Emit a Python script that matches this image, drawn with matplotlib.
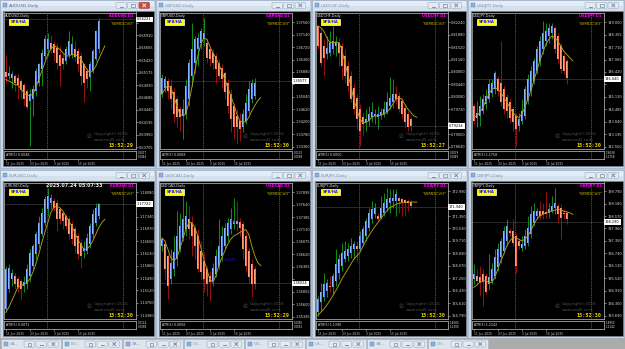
import matplotlib
matplotlib.use('Agg')
import matplotlib.pyplot as plt
from matplotlib.patches import Rectangle, FancyBboxPatch
from matplotlib.transforms import blended_transform_factory
import numpy as np

# ---------------- DATA ----------------
DATE_TICKS = [0, 8, 16, 24]
DATE_LABELS = ['11 Jun 2025', '23 Jun 2025', '3 Jul 2025', '15 Jul 2025']
SEPARATORS = [13.6, 39.0]

AUDUSD_O = [0.6519,0.6510,0.6506,0.6511,0.6506,0.6501,0.6494,0.6481,0.6462,0.6465,0.6481,0.6498,0.6524,0.6550,0.6563,0.6576,0.6573,0.6566,0.6553,0.6547,0.6540,0.6553,0.6553,0.6563,0.6560,0.6550,0.6534,0.6521,0.6508,0.6521,0.6544,0.6563]
AUDUSD_C = [0.6508,0.6517,0.6514,0.6498,0.6493,0.6483,0.6465,0.6449,0.6475,0.6485,0.6521,0.6534,0.6557,0.6583,0.6584,0.6564,0.6557,0.6537,0.6530,0.6534,0.6563,0.6579,0.6573,0.6549,0.6534,0.6511,0.6498,0.6504,0.6534,0.6560,0.6599,0.6619]
AUDUSD_H = [0.6553,0.6530,0.6521,0.6514,0.6514,0.6504,0.6498,0.6485,0.6485,0.6494,0.6527,0.6537,0.6563,0.6592,0.6596,0.6592,0.6579,0.6576,0.6570,0.6557,0.6570,0.6599,0.6589,0.6579,0.6566,0.6557,0.6537,0.6527,0.6540,0.6563,0.6602,0.6625]
AUDUSD_L = [0.6498,0.6504,0.6488,0.6481,0.6465,0.6465,0.6452,0.6445,0.6374,0.6432,0.6472,0.6491,0.6491,0.6544,0.6550,0.6557,0.6540,0.6524,0.6491,0.6524,0.6534,0.6547,0.6547,0.6540,0.6521,0.6494,0.6459,0.6488,0.6481,0.6517,0.6540,0.6557]
AUDUSD_MA = [0.6504,0.6501,0.6498,0.6494,0.6493,0.6486,0.6478,0.6473,0.6472,0.6475,0.6488,0.6504,0.6521,0.6537,0.6553,0.6564,0.6570,0.6568,0.6563,0.6557,0.6551,0.6550,0.6553,0.6553,0.6550,0.6544,0.6534,0.6524,0.6517,0.6521,0.6530,0.6544,0.6557,0.6570]
AUDUSD_TICKS = [0.66155,0.65910,0.65665,0.65420,0.65175,0.64930,0.64685,0.64440,0.64195,0.63950,0.63705]

GBPUSD_O = [1.3513,1.3535,1.3558,1.3541,1.3519,1.3496,1.3463,1.3440,1.3446,1.3496,1.3575,1.3619,1.3664,1.3687,1.3698,1.3687,1.3664,1.3653,1.3642,1.3619,1.3603,1.3586,1.3552,1.3513,1.3474,1.3440,1.3423,1.3401,1.3423,1.3457,1.3496,1.3507]
GBPUSD_C = [1.3569,1.3563,1.3524,1.3496,1.3446,1.3435,1.3435,1.3463,1.3541,1.3619,1.3664,1.3698,1.3703,1.3726,1.3720,1.3636,1.3631,1.3619,1.3597,1.3575,1.3563,1.3519,1.3474,1.3429,1.3401,1.3401,1.3395,1.3446,1.3485,1.3530,1.3552,1.3552]
GBPUSD_H = [1.3580,1.3575,1.3569,1.3563,1.3535,1.3507,1.3474,1.3496,1.3563,1.3631,1.3754,1.3709,1.3720,1.3737,1.3771,1.3703,1.3675,1.3664,1.3653,1.3631,1.3614,1.3591,1.3563,1.3530,1.3485,1.3463,1.3451,1.3463,1.3513,1.3558,1.3563,1.3569]
GBPUSD_L = [1.3502,1.3519,1.3496,1.3463,1.3418,1.3401,1.3390,1.3362,1.3429,1.3474,1.3541,1.3586,1.3608,1.3664,1.3675,1.3619,1.3608,1.3597,1.3552,1.3563,1.3535,1.3496,1.3451,1.3384,1.3362,1.3345,1.3356,1.3384,1.3412,1.3446,1.3485,1.3496]
GBPUSD_MA = [1.3513,1.3530,1.3543,1.3535,1.3507,1.3474,1.3446,1.3440,1.3446,1.3485,1.3535,1.3591,1.3642,1.3681,1.3703,1.3698,1.3675,1.3653,1.3636,1.3614,1.3591,1.3563,1.3535,1.3507,1.3479,1.3446,1.3423,1.3418,1.3420,1.3435,1.3457,1.3474,1.3491,1.3502]
GBPUSD_TICKS = [1.37560,1.37140,1.36720,1.36300,1.35880,1.35460,1.35040,1.34620,1.34200,1.33780,1.33360]

USDCHF_O = [0.8213,0.8193,0.8155,0.8131,0.8136,0.8145,0.8155,0.8165,0.8155,0.8126,0.8097,0.8069,0.8035,0.8006,0.7973,0.7949,0.7934,0.7939,0.7949,0.7953,0.7951,0.7955,0.7958,0.7963,0.7982,0.7992,0.8016,0.8011,0.7997,0.7977,0.7958,0.7944]
USDCHF_C = [0.8155,0.8107,0.8121,0.8150,0.8165,0.8169,0.8166,0.8136,0.8097,0.8069,0.8040,0.8001,0.7973,0.7944,0.7910,0.7929,0.7944,0.7958,0.7963,0.7958,0.7958,0.7963,0.7973,0.7992,0.8006,0.8016,0.8001,0.7973,0.7958,0.7934,0.7920,0.7925]
USDCHF_H = [0.8217,0.8203,0.8174,0.8184,0.8198,0.8213,0.8184,0.8179,0.8165,0.8145,0.8112,0.8083,0.8049,0.8016,0.7987,0.7963,0.7973,0.7982,0.7992,0.7973,0.7982,0.7977,0.7997,0.8021,0.8064,0.8059,0.8040,0.8021,0.8006,0.7987,0.7968,0.7949]
USDCHF_L = [0.8145,0.8097,0.8069,0.8117,0.8126,0.8131,0.8126,0.8097,0.8059,0.8049,0.8021,0.7992,0.7958,0.7915,0.7867,0.7896,0.7910,0.7925,0.7934,0.7929,0.7915,0.7944,0.7949,0.7958,0.7973,0.7977,0.7987,0.7963,0.7944,0.7920,0.7910,0.7910]
USDCHF_MA = [0.8213,0.8208,0.8198,0.8179,0.8165,0.8165,0.8166,0.8165,0.8145,0.8107,0.8073,0.8040,0.8001,0.7973,0.7944,0.7934,0.7934,0.7939,0.7949,0.7953,0.7953,0.7955,0.7958,0.7963,0.7973,0.7987,0.8001,0.8006,0.8001,0.7987,0.7973,0.7963,0.7953,0.7949]
USDCHF_TICKS = [0.82240,0.81880,0.81520,0.81160,0.80800,0.80440,0.80080,0.79720,0.79360,0.79000,0.78640]

USDJPY_O = [144.67,144.06,144.15,144.41,144.75,145.01,145.35,145.53,146.04,145.87,145.53,145.10,144.84,144.49,144.15,143.63,143.89,144.15,144.92,145.44,145.96,146.47,146.99,147.59,148.02,148.28,148.45,148.71,148.28,147.76,147.25,146.99]
USDJPY_C = [143.89,144.32,144.67,145.01,145.18,145.78,145.87,146.39,145.44,144.84,144.49,144.41,144.06,143.81,143.46,143.98,144.41,145.53,146.04,146.47,146.99,147.59,148.02,148.45,148.54,148.71,148.79,147.59,147.07,146.56,146.47,146.13]
USDJPY_H = [144.75,144.92,145.18,145.27,145.53,146.04,146.04,146.47,146.21,148.02,145.70,145.27,145.01,144.67,144.32,144.32,145.01,145.70,146.30,146.73,147.16,147.76,148.28,149.05,148.97,148.97,148.97,148.79,148.45,147.93,147.42,147.07]
USDJPY_L = [143.72,143.55,143.63,144.24,144.49,144.84,145.10,145.27,145.18,144.67,144.24,144.06,143.81,143.38,142.60,143.38,143.72,143.98,144.75,145.18,145.78,146.30,146.73,147.33,147.76,147.93,148.11,147.42,146.82,146.39,146.30,145.78]
USDJPY_MA = [144.06,144.15,144.32,144.58,144.92,145.27,145.53,145.61,145.53,145.35,145.10,144.84,144.58,144.32,144.15,144.06,144.24,144.58,145.01,145.44,145.96,146.47,146.99,147.42,147.85,148.11,148.28,148.19,148.02,147.76,147.50,147.33,147.16,146.99]
USDJPY_TICKS = [149.000,148.355,147.710,147.065,146.420,145.775,145.130,144.485,143.840,143.195,142.550]

EURUSD_O = [1.1456,1.1516,1.1546,1.1556,1.1546,1.1541,1.1526,1.1531,1.1556,1.1586,1.1621,1.1651,1.1681,1.1716,1.1756,1.1776,1.1781,1.1776,1.1756,1.1746,1.1736,1.1726,1.1711,1.1696,1.1676,1.1656,1.1631,1.1631,1.1651,1.1681,1.1716,1.1736]
EURUSD_C = [1.1576,1.1581,1.1566,1.1531,1.1521,1.1516,1.1536,1.1576,1.1626,1.1646,1.1681,1.1716,1.1746,1.1786,1.1796,1.1791,1.1761,1.1726,1.1726,1.1721,1.1706,1.1681,1.1666,1.1646,1.1621,1.1616,1.1641,1.1671,1.1706,1.1741,1.1761,1.1771]
EURUSD_H = [1.1586,1.1591,1.1576,1.1566,1.1556,1.1546,1.1556,1.1591,1.1636,1.1651,1.1691,1.1736,1.1761,1.1796,1.1821,1.1801,1.1791,1.1786,1.1761,1.1751,1.1746,1.1736,1.1721,1.1706,1.1686,1.1666,1.1661,1.1686,1.1716,1.1756,1.1776,1.1776]
EURUSD_L = [1.1446,1.1506,1.1526,1.1516,1.1506,1.1486,1.1506,1.1516,1.1536,1.1576,1.1606,1.1641,1.1676,1.1706,1.1736,1.1756,1.1751,1.1691,1.1711,1.1696,1.1696,1.1666,1.1651,1.1626,1.1606,1.1581,1.1611,1.1621,1.1641,1.1671,1.1706,1.1726]
EURUSD_MA = [1.1446,1.1461,1.1481,1.1501,1.1521,1.1526,1.1531,1.1536,1.1546,1.1566,1.1591,1.1621,1.1656,1.1686,1.1716,1.1746,1.1761,1.1766,1.1761,1.1751,1.1736,1.1721,1.1706,1.1686,1.1666,1.1651,1.1636,1.1636,1.1646,1.1661,1.1681,1.1701,1.1716,1.1726]
EURUSD_TICKS = [1.18080,1.17710,1.17340,1.16970,1.16600,1.16230,1.15860,1.15490,1.15120,1.14750,1.14380]

USDCAD_O = [1.3679,1.3683,1.3659,1.3611,1.3632,1.3652,1.3673,1.3696,1.3713,1.3734,1.3727,1.3717,1.3700,1.3669,1.3649,1.3632,1.3618,1.3608,1.3622,1.3639,1.3659,1.3679,1.3700,1.3713,1.3724,1.3730,1.3728,1.3724,1.3700,1.3669,1.3642,1.3632]
USDCAD_C = [1.3693,1.3632,1.3598,1.3645,1.3666,1.3700,1.3720,1.3734,1.3741,1.3713,1.3700,1.3679,1.3632,1.3625,1.3611,1.3601,1.3605,1.3635,1.3659,1.3679,1.3700,1.3717,1.3727,1.3734,1.3730,1.3724,1.3717,1.3673,1.3639,1.3615,1.3601,1.3601]
USDCAD_H = [1.3696,1.3690,1.3662,1.3673,1.3700,1.3751,1.3747,1.3792,1.3771,1.3761,1.3741,1.3724,1.3713,1.3690,1.3666,1.3639,1.3628,1.3645,1.3673,1.3734,1.3720,1.3727,1.3737,1.3758,1.3778,1.3771,1.3737,1.3730,1.3707,1.3676,1.3652,1.3639]
USDCAD_L = [1.3669,1.3611,1.3570,1.3601,1.3618,1.3639,1.3666,1.3690,1.3700,1.3693,1.3659,1.3652,1.3625,1.3611,1.3584,1.3577,1.3567,1.3598,1.3615,1.3632,1.3649,1.3673,1.3690,1.3703,1.3713,1.3710,1.3700,1.3652,1.3625,1.3601,1.3574,1.3591]
USDCAD_MA = [1.3696,1.3690,1.3673,1.3655,1.3649,1.3655,1.3673,1.3693,1.3713,1.3727,1.3727,1.3717,1.3700,1.3676,1.3652,1.3632,1.3611,1.3605,1.3618,1.3639,1.3655,1.3669,1.3683,1.3693,1.3700,1.3703,1.3707,1.3710,1.3713,1.3703,1.3679,1.3659,1.3645,1.3639]
USDCAD_TICKS = [1.37895,1.37640,1.37385,1.37130,1.36875,1.36620,1.36365,1.36110,1.35855,1.35600,1.35345]

EURJPY_O = [165.01,165.66,165.99,166.43,166.76,166.65,167.08,167.63,168.07,168.51,168.72,168.94,169.16,169.38,169.21,169.60,170.04,170.58,171.13,171.46,171.35,171.24,171.57,171.90,172.22,172.33,172.33,172.55,172.44,172.38,172.33,172.29]
EURJPY_C = [165.88,166.32,166.87,166.97,166.65,167.41,168.18,168.51,168.94,169.05,169.16,169.38,169.49,169.16,170.04,170.47,171.02,171.57,171.79,171.90,171.17,171.90,172.22,172.44,172.55,172.55,172.77,172.33,172.29,172.22,172.22,172.00]
EURJPY_H = [166.10,166.97,167.63,167.19,167.41,167.63,169.16,168.83,169.60,169.71,169.60,169.93,169.71,169.71,170.36,170.69,171.24,171.90,172.33,172.22,171.57,172.66,172.88,173.21,173.10,173.10,173.10,172.66,172.55,172.44,172.44,172.40]
EURJPY_L = [164.79,165.12,165.77,165.99,166.32,166.21,166.76,167.19,167.74,168.29,168.40,168.61,168.51,168.40,169.05,169.38,169.71,170.36,170.91,171.24,171.02,171.13,171.35,171.68,171.57,171.90,171.35,171.57,171.35,171.35,171.68,171.90]
EURJPY_MA = [164.79,165.01,165.22,165.49,165.77,166.10,166.43,166.80,167.19,167.52,167.85,168.18,168.51,168.72,168.94,169.34,169.71,170.04,170.36,170.65,170.91,171.17,171.46,171.68,171.90,172.00,172.11,172.18,172.22,172.24,172.27,172.27,172.27,172.27]
EURJPY_TICKS = [172.990,172.170,171.350,170.530,169.710,168.890,168.070,167.250,166.430,165.610,164.790]

GBPJPY_O = [195.48,195.64,195.56,195.72,195.64,195.24,195.40,195.64,196.05,196.54,196.86,197.35,197.84,197.84,197.59,197.35,197.02,197.11,197.27,197.68,198.25,198.57,198.81,198.81,198.77,198.73,198.81,198.98,199.06,198.98,198.73,198.73]
GBPJPY_C = [195.72,195.40,195.32,195.40,194.83,195.56,195.97,196.54,196.94,197.35,197.84,198.08,197.76,197.27,196.13,197.11,197.19,197.59,198.00,198.65,198.81,198.81,198.57,198.65,198.65,198.90,199.06,199.22,198.65,198.49,198.65,198.41]
GBPJPY_H = [196.21,195.97,196.13,195.97,195.80,196.70,196.29,196.94,197.27,197.51,198.08,198.41,198.00,198.41,197.76,197.51,197.59,197.92,198.57,199.06,199.22,198.98,199.30,199.22,199.79,199.22,199.55,199.95,199.14,199.14,198.90,198.81]
GBPJPY_L = [195.24,195.24,194.67,194.18,194.75,194.99,195.24,195.48,195.89,196.29,196.78,197.11,197.59,197.11,195.80,196.94,196.86,196.94,197.11,197.51,198.08,198.41,198.41,198.41,198.49,198.49,198.73,198.65,198.25,197.43,198.41,198.16]
GBPJPY_MA = [195.07,195.19,195.32,195.37,195.40,195.32,195.32,195.56,195.97,196.37,196.70,197.11,197.35,197.51,197.51,197.43,197.35,197.43,197.59,197.84,198.16,198.41,198.57,198.65,198.73,198.77,198.81,198.86,198.90,198.86,198.81,198.77,198.73,198.65]
GBPJPY_TICKS = [199.790,199.180,198.570,197.960,197.350,196.740,196.130,195.520,194.910,194.300,193.690]

PAIR_NAMES = ['AUDUSD', 'GBPUSD', 'USDCHF', 'USDJPY', 'EURUSD', 'USDCAD', 'EURJPY', 'GBPJPY']
BID = [0.66221, 1.35577, 0.79234, 146.040, 1.17722, 1.36024, 171.940, 198.290]
ATR_TEXT = ['ATR(5) 0.0048', 'ATR(5) 0.0068', 'ATR(5) 0.0050', 'ATR(5) 1.1758',
            'ATR(5) 0.0071', 'ATR(5) 0.0056', 'ATR(5) 1.1390', 'ATR(5) 1.2142']
ATR_SCALE = [('0.0077', '0.0044'), ('0.0115', '0.0068'), ('0.0079', '0.0049'), ('1.9638', '1.1758'),
             ('0.0114', '0.0068'), ('0.0085', '0.0052'), ('1.4683', '1.1390'), ('1.8950', '1.2142')]
CLOCK = ['15:52:29', '15:52:30', '15:52:27', '15:52:30', '15:52:30', '15:52:29', '15:52:30', '15:52:30']
TASK_TABS = ['XA...', 'EU...', 'XA...', 'US...', 'GB...', 'US...', 'XA...', 'CH...']

SERIES = {
    'AUDUSD': (AUDUSD_O, AUDUSD_C, AUDUSD_H, AUDUSD_L, AUDUSD_MA, AUDUSD_TICKS),
    'GBPUSD': (GBPUSD_O, GBPUSD_C, GBPUSD_H, GBPUSD_L, GBPUSD_MA, GBPUSD_TICKS),
    'USDCHF': (USDCHF_O, USDCHF_C, USDCHF_H, USDCHF_L, USDCHF_MA, USDCHF_TICKS),
    'USDJPY': (USDJPY_O, USDJPY_C, USDJPY_H, USDJPY_L, USDJPY_MA, USDJPY_TICKS),
    'EURUSD': (EURUSD_O, EURUSD_C, EURUSD_H, EURUSD_L, EURUSD_MA, EURUSD_TICKS),
    'USDCAD': (USDCAD_O, USDCAD_C, USDCAD_H, USDCAD_L, USDCAD_MA, USDCAD_TICKS),
    'EURJPY': (EURJPY_O, EURJPY_C, EURJPY_H, EURJPY_L, EURJPY_MA, EURJPY_TICKS),
    'GBPJPY': (GBPJPY_O, GBPJPY_C, GBPJPY_H, GBPJPY_L, GBPJPY_MA, GBPJPY_TICKS),
}

# ---------------- LAYOUT / STYLE ----------------
W, H = 625, 349
COLS = [0, 156, 312, 468]
ROWS = [0, 170]
YLIMS = {
    'AUDUSD': (0.63673, 0.66357), 'GBPUSD': (1.33282, 1.37885),
    'USDCHF': (0.78573, 0.82519), 'USDJPY': (142.43, 149.50),
    'EURUSD': (1.14260, 1.18370), 'USDCAD': (1.35297, 1.38092),
    'EURJPY': (164.57, 173.557), 'GBPJPY': (193.526, 200.213),
}
BLUE, BLUE_L = '#4a7fe6', '#86b6ff'
SAL, SAL_L = '#ff6a46', '#ffa07e'
WICK_UP, WICK_DN = '#12881a', '#931010'
MA_COL = '#b59e10'
GRID = '#a4a4a4'

fig = plt.figure(figsize=(W / 100, H / 100), dpi=100)
fig.patch.set_facecolor('#b7c6d8')


def px_axes(x, y, w, h, z=1):
    return fig.add_axes([x / W, 1 - (y + h) / H, w / W, h / H], zorder=z)


bg = px_axes(0, 0, W, H, 0)
bg.set_xlim(0, W); bg.set_ylim(H, 0); bg.axis('off')
fg = px_axes(0, 0, W, H, 30)
fg.set_xlim(0, W); fg.set_ylim(H, 0); fg.axis('off')


def button(ax, x, y, kind, red=False):
    fc = '#cf4a3e' if red else '#e3eaf2'
    ec = '#9a4038' if red else '#9eafc2'
    ax.add_patch(FancyBboxPatch((x, y), 10.5, 6.2, boxstyle='round,pad=0,rounding_size=1.2',
                                fc=fc, ec=ec, lw=0.4))
    ic = 'white' if red else '#6d7f94'
    if kind == 'min':
        ax.plot([x + 3.5, x + 7], [y + 4.2, y + 4.2], color=ic, lw=0.6)
    elif kind == 'max':
        ax.add_patch(Rectangle((x + 3.5, y + 1.8), 3.5, 2.8, fc='none', ec=ic, lw=0.45))
    else:
        ax.plot([x + 3.8, x + 6.8], [y + 1.6, y + 4.6], color=ic, lw=0.6)
        ax.plot([x + 3.8, x + 6.8], [y + 4.6, y + 1.6], color=ic, lw=0.6)


def fmt(v, name):
    return f'{v:.3f}' if name.endswith('JPY') else f'{v:.5f}'


for k, name in enumerate(PAIR_NAMES):
    x0 = COLS[k % 4]
    y0 = ROWS[k // 4]
    ww = 157 if k % 4 == 3 else 156
    o, c, h, l, ma, ticks = [np.array(a) for a in SERIES[name]]
    n = len(o)
    idx = np.arange(n)
    ylo, yhi = YLIMS[name]
    step = abs(ticks[0] - ticks[1])

    # window frame and title bar
    bg.add_patch(Rectangle((x0, y0), ww - 1, 168, fc='#c9d6e5', ec='#9fb1c6', lw=0.5))
    bg.add_patch(Rectangle((x0 + 1, y0 + 1), ww - 3, 5, fc='#e4ecf5', ec='none'))
    bg.add_patch(Rectangle((x0 + 1, y0 + 6), ww - 3, 5, fc='#d5e0ed', ec='none'))
    bg.add_patch(Rectangle((x0 + 2.5, y0 + 3.2), 4, 4, fc='#8fb0d8', ec='#5a7fae', lw=0.3))
    bg.text(x0 + 9, y0 + 6.2, f'{name},Daily', fontsize=3.1, color='#7d8ea3' if k else '#56667a',
            va='center', ha='left')
    button(bg, x0 + ww - 40, y0 + 2.3, 'min')
    button(bg, x0 + ww - 28.5, y0 + 2.3, 'max')
    button(bg, x0 + ww - 17, y0 + 2.3, 'close', red=(k == 0))
    bg.add_patch(Rectangle((x0 + 3, y0 + 11), ww - 5.5, 155, fc='black', ec='#7d8c9c', lw=0.4))

    # main chart
    ax = px_axes(x0 + 4, y0 + 12.5, 132, 136.5, 5)
    ax.set_facecolor('black')
    ax.set_xlim(-0.6, 43.4)
    ax.set_ylim(ylo, yhi)
    for s in ax.spines.values():
        s.set_color(GRID); s.set_linewidth(0.6)
    ax.set_xticks([])
    ax.yaxis.tick_right()
    ax.set_yticks(ticks)
    # labels hidden behind the current-price box are left blank, as the terminal does
    ax.set_yticklabels(['' if abs(t - BID[k]) < 0.45 * step else fmt(t, name) for t in ticks])
    ax.tick_params(axis='y', colors='#dcdcdc', labelsize=2.5, length=1.5, width=0.4, pad=0.8)
    for sx in SEPARATORS:
        ax.axvline(sx, color='#8c8c8c', lw=0.5, ls=(0, (1.2, 1.4)), zorder=1)
    ax.axhline(BID[k], color='#3c3c3c', lw=0.5, zorder=1)

    up = c >= o
    ax.vlines(idx, l, h, colors=np.where(up, WICK_UP, WICK_DN), lw=0.75, zorder=2)
    lo = np.minimum(o, c)
    hgt = np.maximum(np.abs(c - o), (yhi - ylo) * 0.006)
    ax.bar(idx, hgt, bottom=lo, width=0.76, color=np.where(up, BLUE, SAL), lw=0, zorder=3)
    ax.bar(idx, hgt, bottom=lo, width=0.28, color=np.where(up, BLUE_L, SAL_L), lw=0, zorder=4)
    ax.plot(np.arange(len(ma)), ma, color=MA_COL, lw=0.65, zorder=5)

    tr = blended_transform_factory(ax.transAxes, ax.transData)
    ax.text(1.008, BID[k], fmt(BID[k], name), transform=tr, fontsize=2.5, color='black',
            va='center', ha='left', clip_on=False, zorder=10,
            bbox=dict(boxstyle='square,pad=0.25', fc='white', ec='none'))

    # ATR sub-window
    ax2 = px_axes(x0 + 4, y0 + 150.5, 132, 8, 5)
    ax2.set_facecolor('black')
    ax2.set_xlim(-0.6, 43.4)
    ax2.set_ylim(0, 1)
    for s in ax2.spines.values():
        s.set_color(GRID); s.set_linewidth(0.6)
    ax2.set_yticks([])
    ax2.set_xticks(DATE_TICKS)
    ax2.set_xticklabels(DATE_LABELS, ha='left')
    ax2.tick_params(axis='x', colors='#d0d0d0', labelsize=2.2, length=1.2, width=0.4, pad=1.2)
    for sx in SEPARATORS:
        ax2.axvline(sx, color='#8c8c8c', lw=0.5, ls=(0, (1.2, 1.4)))
    ax2.text(0.012, 0.5, ATR_TEXT[k], transform=ax2.transAxes, fontsize=2.3, color='#e0e0e0',
             va='center', ha='left')
    ax2.text(1.012, 0.72, ATR_SCALE[k][0], transform=ax2.transAxes, fontsize=2.0, color='#e0e0e0',
             va='center', ha='left', clip_on=False)
    ax2.text(1.012, 0.25, ATR_SCALE[k][1], transform=ax2.transAxes, fontsize=2.0, color='#e0e0e0',
             va='center', ha='left', clip_on=False)

    # overlay texts
    fg.text(x0 + 5, y0 + 15.5, f'{name},Daily', fontsize=2.5, color='#e8e8e8', va='center', ha='left')
    fg.add_patch(Rectangle((x0 + 9, y0 + 18.8), 19, 6.4, fc='#ffff00', ec='#ffffff', lw=0.5))
    fg.text(x0 + 18.5, y0 + 22.1, 'SPB/HA', fontsize=2.7, color='#1a1aff', weight='bold',
            va='center', ha='center')
    fg.text(x0 + 133.5, y0 + 15.8, f'{name} D1', fontsize=2.6, color='#ff00ff', weight='bold',
            va='center', ha='right')
    fg.text(x0 + 134, y0 + 23.8, '"WMDCVII"', fontsize=3.2, color='#c9b200', va='center', ha='right')
    fg.text(x0 + 94, y0 + 134.5, 'Copyright©2016', fontsize=3.0, color='#4e4e4e', va='center', ha='left')
    fg.text(x0 + 94, y0 + 139.5, 'www.mql5.com', fontsize=3.0, color='#4e4e4e', va='center', ha='left')
    fg.text(x0 + 89.5, y0 + 137, '✆', fontsize=4.5, color='#4e4e4e', va='center', ha='center')
    fg.text(x0 + 133.5, y0 + 145.3, CLOCK[k], fontsize=3.7, color='#e6cf00', family='DejaVu Sans Mono',
            weight='bold', va='center', ha='right')
    if name == 'EURUSD':
        fg.text(x0 + 46, y0 + 15.8, '2025.07.24 05:07:33', fontsize=3.5, color='#f2f2f2',
                weight='bold', va='center', ha='left')
    if name == 'USDCAD':
        ax.text(20.5, 1.3728, '1.37283', fontsize=2.4, color='#2323a8', va='center', ha='left', zorder=8)
        ax.text(20.3, 1.3650, '1.36501', fontsize=2.4, color='#2323a8', va='center', ha='left', zorder=8)

# task bar with minimized windows
bg.add_patch(Rectangle((0, 338), W, 11, fc='#ababab', ec='none'))
for i, lab in enumerate(TASK_TABS):
    tx = 1 + 61 * i
    bg.add_patch(Rectangle((tx, 339), 59.5, 10, fc='#dde5ee', ec='#a3b3c5', lw=0.4))
    bg.add_patch(Rectangle((tx + 2.5, 341.5), 4, 4, fc='#8fb0d8', ec='#5a7fae', lw=0.3))
    bg.text(tx + 9, 344, lab, fontsize=3.0, color='#8a98aa', va='center', ha='left')
    button(bg, tx + 23, 341, 'max')
    button(bg, tx + 35, 341, 'min')
    button(bg, tx + 47, 341, 'close')

fig.savefig('out.png', dpi=100, facecolor=fig.get_facecolor())
